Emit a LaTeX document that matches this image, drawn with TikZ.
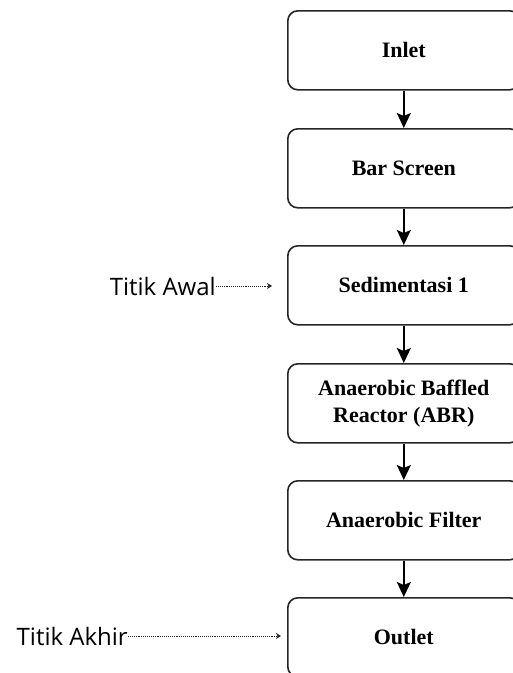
\documentclass[tikz,border=0pt]{standalone}
\usepackage{fontspec}
\setmainfont{Liberation Serif}
\newfontfamily\labelfont{Open Sans}
\usetikzlibrary{arrows.meta}
\begin{document}
\begin{tikzpicture}[x=1pt,y=-1pt,
  stepbox/.style={draw=black!85, line width=1.6pt, rounded corners=10pt,
    minimum width=232pt, minimum height=79pt, align=center,
    font=\bfseries\fontsize{22}{27}\selectfont, text=black, anchor=north west, inner sep=0pt},
  flow/.style={draw=black, line width=1.6pt, -{Stealth[length=15pt,width=14pt,inset=3pt]}},
  lbl/.style={font=\labelfont\fontsize{24}{28}\selectfont, inner sep=0pt, text=black},
  dotarrow/.style={draw=black!85, line width=1pt, dash pattern=on 1pt off 0.9pt,
    -{Stealth[length=5pt,width=6pt]}}
]
\useasboundingbox (0,0) rectangle (513,673);
\fill[white] (0,0) rectangle (513,673);
\node[stepbox] (inlet) at (287,10) {Inlet};
\node[stepbox] (bar) at (287,128) {Bar Screen};
\node[stepbox] (sed) at (287,245) {Sedimentasi 1};
\node[stepbox] (abr) at (287,363) {Anaerobic Baffled\\Reactor (ABR)};
\node[stepbox] (af) at (287,480) {Anaerobic Filter};
\node[stepbox] (out) at (287,597) {Outlet};
\draw[flow] (inlet) -- (bar);
\draw[flow] (bar) -- (sed);
\draw[flow] (sed) -- (abr);
\draw[flow] (abr) -- (af);
\draw[flow] (af) -- (out);
\node[lbl, anchor=base east] (awal) at (216,295) {Titik Awal};
\node[lbl, anchor=base east] (akhir) at (128,645) {Titik Akhir};
\draw[dotarrow, shorten >=15pt] (awal.east) -- (awal.east -| sed.west);
\draw[dotarrow, shorten >=6pt] (akhir.east) -- (akhir.east -| out.west);
\end{tikzpicture}
\end{document}
